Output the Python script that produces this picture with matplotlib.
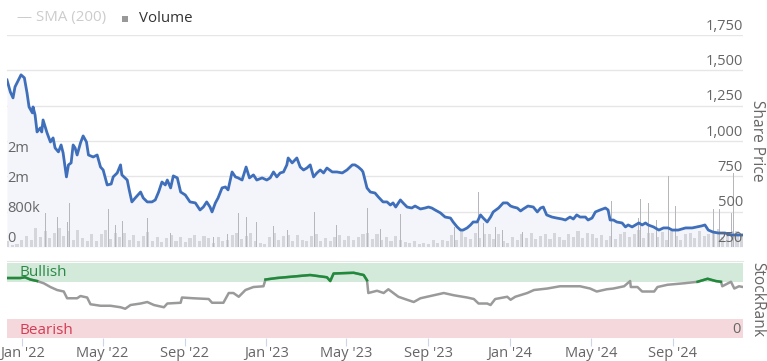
import numpy as np
import pandas as pd
import matplotlib
matplotlib.use('Agg')
import matplotlib.pyplot as plt
import matplotlib.dates as mdates
from matplotlib.transforms import offset_copy

plt.rcParams['font.family'] = ['Open Sans', 'DejaVu Sans']

# ---------------- data ----------------
price_dates = [
    '2021-12-09', '2021-12-14', '2021-12-18', '2021-12-21', '2021-12-30', '2022-01-04', '2022-01-08',
    '2022-01-11', '2022-01-16', '2022-01-17', '2022-01-20', '2022-01-23', '2022-01-28', '2022-01-30',
    '2022-02-01', '2022-02-07', '2022-02-12', '2022-02-16', '2022-02-19', '2022-02-24', '2022-02-28',
    '2022-03-03', '2022-03-08', '2022-03-11', '2022-03-15', '2022-03-18', '2022-03-21', '2022-03-24',
    '2022-03-29', '2022-04-02', '2022-04-07', '2022-04-10', '2022-04-17', '2022-04-23', '2022-04-28',
    '2022-05-02', '2022-05-08', '2022-05-14', '2022-05-17', '2022-05-23', '2022-05-28', '2022-05-30',
    '2022-06-07', '2022-06-10', '2022-06-14', '2022-06-19', '2022-06-27', '2022-07-01', '2022-07-07',
    '2022-07-14', '2022-07-19', '2022-07-24', '2022-07-29', '2022-08-03', '2022-08-06', '2022-08-11',
    '2022-08-15', '2022-08-21', '2022-08-26', '2022-09-02', '2022-09-09', '2022-09-17', '2022-09-24',
    '2022-09-29', '2022-10-04', '2022-10-09', '2022-10-12', '2022-10-17', '2022-10-21', '2022-10-27',
    '2022-11-01', '2022-11-05', '2022-11-11', '2022-11-16', '2022-11-20', '2022-11-26', '2022-12-02',
    '2022-12-07', '2022-12-13', '2022-12-18', '2022-12-26', '2023-01-02', '2023-01-07', '2023-01-12',
    '2023-01-17', '2023-01-22', '2023-01-27', '2023-02-01', '2023-02-03', '2023-02-09', '2023-02-16',
    '2023-02-21', '2023-02-26', '2023-03-03', '2023-03-08', '2023-03-13', '2023-03-18', '2023-03-23',
    '2023-03-28', '2023-04-02', '2023-04-10', '2023-04-17', '2023-04-25', '2023-05-02', '2023-05-10',
    '2023-05-14', '2023-05-19', '2023-05-24', '2023-05-26', '2023-06-01', '2023-06-06', '2023-06-13',
    '2023-06-18', '2023-06-25', '2023-07-01', '2023-07-06', '2023-07-10', '2023-07-14', '2023-07-21',
    '2023-07-25', '2023-07-31', '2023-08-07', '2023-08-12', '2023-08-20', '2023-08-27', '2023-09-01',
    '2023-09-06', '2023-09-11', '2023-09-19', '2023-09-26', '2023-10-04', '2023-10-08', '2023-10-14',
    '2023-10-19', '2023-10-23', '2023-10-29', '2023-11-03', '2023-11-07', '2023-11-13', '2023-11-18',
    '2023-11-22', '2023-11-28', '2023-12-03', '2023-12-07', '2023-12-15', '2023-12-22', '2023-12-28',
    '2024-01-02', '2024-01-06', '2024-01-12', '2024-01-17', '2024-01-21', '2024-01-28', '2024-02-05',
    '2024-02-11', '2024-02-16', '2024-02-20', '2024-02-25', '2024-03-04', '2024-03-11', '2024-03-19',
    '2024-03-24', '2024-03-31', '2024-04-05', '2024-04-10', '2024-04-15', '2024-04-23', '2024-04-27',
    '2024-05-03', '2024-05-08', '2024-05-15', '2024-05-23', '2024-05-27', '2024-05-30', '2024-06-04',
    '2024-06-09', '2024-06-17', '2024-06-22', '2024-06-26', '2024-07-02', '2024-07-07', '2024-07-12',
    '2024-07-17', '2024-07-22', '2024-07-26', '2024-08-03', '2024-08-11', '2024-08-18', '2024-08-25',
    '2024-08-31', '2024-09-09', '2024-09-20', '2024-09-30', '2024-10-07', '2024-10-14', '2024-10-19',
    '2024-10-24', '2024-10-31', '2024-11-08', '2024-11-18', '2024-11-28', '2024-12-08', '2024-12-14',
]
price_values = [
    1432, 1347, 1305, 1383, 1468, 1447, 1340,
    1241, 1199, 1241, 1185, 1064, 1093, 1064,
    1149, 1057, 993, 1022, 951, 923, 972,
    916, 746, 831, 845, 972, 951, 901,
    986, 1036, 993, 901, 887, 901, 816,
    795, 689, 696, 746, 774, 831, 760,
    724, 654, 569, 597, 639, 597, 569,
    569, 583, 639, 710, 689, 724, 668,
    753, 739, 639, 618, 569, 562, 512,
    533, 569, 533, 498, 562, 597, 668,
    675, 654, 781, 746, 739, 724, 816,
    739, 760, 724, 739, 724, 739, 781,
    746, 774, 781, 831, 880, 845, 880,
    816, 795, 809, 831, 746, 774, 795,
    774, 809, 781, 781, 774, 795, 831,
    831, 816, 795, 781, 668, 639, 632,
    604, 569, 569, 547, 562, 533, 583,
    562, 533, 526, 540, 519, 526, 533,
    526, 512, 491, 462, 455, 427, 392,
    370, 370, 385, 406, 427, 427, 477,
    455, 427, 462, 498, 526, 562, 562,
    540, 533, 526, 505, 519, 540, 533,
    498, 526, 533, 477, 462, 455, 448,
    441, 462, 448, 477, 462, 462, 441,
    455, 498, 512, 526, 512, 441, 441,
    427, 420, 392, 406, 392, 406, 420,
    406, 420, 406, 392, 370, 385, 385,
    370, 370, 385, 385, 392, 399, 406,
    370, 356, 349, 349, 335, 335, 335,
]

# weekly volume (shares, thousands) starting 2021-12-10
vol_start = '2021-12-10'
vol_weekly_k = [
    150, 60, 90, 190,
    300, 180, 500, 260,
    420, 230, 380, 520,
    300, 420, 200, 450, 250,
    170, 340, 150, 360,
    450, 210, 380, 260,
    380, 200, 330, 170,
    300, 400, 160, 280, 140,
    240, 320, 150, 260,
    130, 240, 310, 150, 290,
    240, 120, 260, 160,
    200, 330, 380, 220,
    300, 380, 170, 120, 90,
    260, 380, 200, 300,
    330, 160, 310, 200,
    150, 300, 360, 170, 250,
    160, 280, 330, 190,
    290, 180, 260, 340,
    380, 220, 340, 180, 260,
    150, 300, 200, 130,
    110, 150, 80, 120,
    90, 180, 110, 200, 150,
    330, 200, 420, 270,
    210, 380, 250, 340,
    360, 220, 340, 170, 110,
    260, 180, 340, 230,
    380, 220, 290, 350,
    210, 380, 260, 190, 340,
    280, 420, 230, 380,
    360, 240, 330, 180, 300,
    210, 360, 400, 260,
    360, 450, 240, 380,
    380, 260, 400, 200, 420,
    300, 200, 360, 390,
    240, 420, 300, 360,
    420, 480, 280, 380, 440,
    420, 300,
]

# high-volume days
spike_dates = [
    '2022-01-23', '2022-01-26', '2022-02-04', '2022-02-22', '2022-03-09', '2022-03-12', '2022-05-10',
    '2022-05-20', '2022-05-31', '2022-07-07', '2022-08-11', '2022-09-30', '2022-10-14', '2022-11-04',
    '2022-11-20', '2022-12-02', '2022-12-17', '2023-01-12', '2023-02-02', '2023-03-14', '2023-04-16',
    '2023-06-02', '2023-06-21', '2023-07-21', '2023-10-10', '2023-11-15', '2023-11-22', '2023-12-10',
    '2023-12-21', '2024-01-20', '2024-04-12', '2024-04-27', '2024-05-03', '2024-06-01', '2024-07-11',
    '2024-07-14', '2024-07-26', '2024-08-07', '2024-08-26', '2024-09-05', '2024-11-01', '2024-11-10',
    '2024-11-28', '2024-12-01',
]
spike_values_k = [
    1590, 1350, 915, 807, 673, 1180, 1020,
    592, 700, 780, 377, 377, 270, 350,
    915, 807, 673, 565, 457, 940, 592,
    1050, 484, 888, 538, 1480, 646, 538,
    457, 404, 1860, 940, 940, 1240, 780,
    1290, 1180, 726, 1910, 1100, 1020, 1020,
    915, 1990,
]

rank_dates = [
    '2021-12-09', '2021-12-29', '2022-01-05', '2022-01-13', '2022-01-23', '2022-02-02', '2022-02-12',
    '2022-02-22', '2022-03-04', '2022-03-09', '2022-03-24', '2022-03-29', '2022-04-08', '2022-04-13',
    '2022-04-28', '2022-05-13', '2022-05-28', '2022-06-04', '2022-06-12', '2022-06-27', '2022-07-07',
    '2022-07-17', '2022-08-01', '2022-08-06', '2022-08-26', '2022-08-28', '2022-09-14', '2022-10-07',
    '2022-10-12', '2022-10-29', '2022-11-06', '2022-11-13', '2022-11-21', '2022-12-01', '2022-12-13',
    '2022-12-28', '2022-12-31', '2023-01-17', '2023-02-11', '2023-03-08', '2023-04-02', '2023-04-07',
    '2023-04-12', '2023-05-12', '2023-05-27', '2023-06-01', '2023-06-03', '2023-06-16', '2023-06-26',
    '2023-07-03', '2023-07-18', '2023-07-31', '2023-08-10', '2023-08-20', '2023-09-09', '2023-09-24',
    '2023-10-09', '2023-10-29', '2023-11-08', '2023-11-15', '2023-11-28', '2023-12-03', '2023-12-10',
    '2023-12-28', '2024-01-02', '2024-01-09', '2024-01-27', '2024-02-06', '2024-02-26', '2024-03-16',
    '2024-04-15', '2024-04-30', '2024-05-10', '2024-05-25', '2024-06-04', '2024-06-20', '2024-06-29',
    '2024-06-30', '2024-07-10', '2024-07-17', '2024-08-04', '2024-08-09', '2024-08-24', '2024-09-18',
    '2024-10-08', '2024-10-23', '2024-11-04', '2024-11-12', '2024-11-14', '2024-11-27', '2024-12-02',
    '2024-12-09', '2024-12-15',
]
rank_values = [
    80, 80, 81, 78, 76, 73, 68,
    64, 62, 53, 53, 56, 54, 45,
    43, 43, 41, 39, 44, 46, 48,
    44, 41, 46, 47, 54, 53, 52,
    47, 47, 60, 60, 55, 64, 68,
    69, 78, 80, 82, 84, 81, 76,
    86, 87, 84, 77, 60, 63, 60,
    65, 55, 51, 48, 53, 57, 60,
    57, 54, 52, 46, 46, 44, 52,
    55, 51, 55, 60, 64, 66, 69,
    69, 66, 62, 65, 66, 69, 76,
    68, 68, 62, 62, 68, 71, 73,
    75, 79, 76, 75, 69, 75, 66,
    69, 68,
]

price_ticks = [250, 500, 750, 1000, 1250, 1500, 1750]
volume_ticks = [0, 800000, 1600000, 2400000]
volume_tick_labels = ['0', '800k', '2m', '2m']
x_tick_dates = ['2022-01-01', '2022-05-01', '2022-09-01', '2023-01-01', '2023-05-01',
                '2023-09-01', '2024-01-01', '2024-05-01', '2024-09-01']

# ---------------- figure ----------------
W, H = 767, 361
fig = plt.figure(figsize=(W / 100, H / 100), dpi=100)

def box(x0, y0, x1, y1):
    return [x0 / W, 1 - y1 / H, (x1 - x0) / W, (y1 - y0) / H]

pdates = pd.to_datetime(price_dates)
pvals = np.array(price_values, dtype=float)
vdates = pd.date_range(vol_start, periods=len(vol_weekly_k), freq='7D')
vvals = np.array(vol_weekly_k) * 1000.0
sdates = pd.to_datetime(spike_dates)
svals = np.array(spike_values_k) * 1000.0
rdates = pd.to_datetime(rank_dates)
rvals = np.array(rank_values, dtype=float)

xmin = pd.Timestamp('2021-12-09')
xmax = pd.Timestamp('2024-12-15')

grid_c = '#e6e6e6'
label_c = '#666666'
fs_tick = 10.5
fs_title = 11.2

# price axes (fill + gridlines)
ax = fig.add_axes(box(7, 35, 743, 247))
ax.set_xlim(xmin, xmax)
ax.set_ylim(250, 1750)
for t in price_ticks:
    ax.axhline(t, color=grid_c, lw=1, zorder=0)
ax.fill_between(pdates, pvals, 250, color='#f3f5fa', lw=0, zorder=1)
ax.axis('off')

# volume axes
axv = fig.add_axes(box(7, 35, 743, 247), sharex=ax)
axv.patch.set_visible(False)
axv.set_ylim(0, 5.71e6)
axv.bar(vdates, vvals, width=4.6, color='#d4d6db', lw=0, align='center')
axv.bar(sdates, svals, width=1.3, color='#b5b7bc', lw=0, align='center')
axv.axis('off')
for t, lab in zip(volume_ticks, volume_tick_labels):
    tr = offset_copy(axv.transData, fig=fig, x=0, y=9 * 72 / 100, units='points')
    axv.text(xmin + pd.Timedelta(days=0), t, lab, transform=tr, ha='left', va='center',
             fontsize=fs_tick, color=label_c, zorder=5)

# price line axes
axl = fig.add_axes(box(7, 35, 743, 247), sharex=ax)
axl.patch.set_visible(False)
axl.set_ylim(250, 1750)
axl.plot(pdates, pvals, color='#3f6fbb', lw=2.0, solid_joinstyle='round')
axl.axis('off')
for t in price_ticks:
    tr = offset_copy(axl.transData, fig=fig, x=0, y=1.5 * 72 / 100, units='points')
    axl.text(xmax, t, f'{t:,}', transform=tr, ha='right', va='bottom',
             fontsize=fs_tick, color=label_c, zorder=5)

# legend
fig.text(16 / W, 1 - 18 / H, '—', color='#cccccc', fontsize=10.8, ha='left', va='center')
fig.text(36 / W, 1 - 18 / H, 'SMA (200)', color='#cccccc', fontsize=10.8, ha='left', va='center')
fig.patches.append(plt.Rectangle((122 / W, 1 - 22 / H), 6 / W, 6 / H, transform=fig.transFigure,
                                 color='#999999', lw=0))
fig.text(139 / W, 1 - 18 / H, 'Volume', color='#333333', fontsize=10.8, ha='left', va='center')

fig.text(757 / W, 1 - 141 / H, 'Share Price', rotation=-90, ha='center', va='center',
         color=label_c, fontsize=fs_title)

# rank axes
axr = fig.add_axes(box(7, 261, 743, 338), sharex=ax)
axr.set_xlim(xmin, xmax)
axr.set_ylim(0, 102.7)
axr.axhspan(75, 100, color='#d3e9da', lw=0, zorder=0)
axr.axhspan(0, 25, color='#f5d8db', lw=0, zorder=0)
axr.plot(rdates, rvals, color='#9a9a9a', lw=1.8, zorder=2)
green = np.ma.masked_where(rvals < 75, rvals)
axr.plot(rdates, green, color='#1f8a3a', lw=1.8, zorder=3)
for s in ['left', 'right', 'bottom']:
    axr.spines[s].set_visible(False)
axr.spines['top'].set_color(grid_c)
axr.set_yticks([])
axr.set_xticks(pd.to_datetime(x_tick_dates))
axr.xaxis.set_major_formatter(mdates.DateFormatter("%b '%y"))
axr.tick_params(axis='x', length=6, color='#ccd6eb', labelsize=fs_tick, labelcolor=label_c, pad=0)
axr.text(xmin + pd.Timedelta(days=18), 87, 'Bullish', color='#2a8a45', fontsize=11,
         ha='left', va='center')
axr.text(xmin + pd.Timedelta(days=18), 9.5, 'Bearish', color='#d43c55', fontsize=11,
         ha='left', va='center')
axr.text(xmax - pd.Timedelta(days=3), 12, '0', color=label_c, fontsize=fs_tick, ha='right', va='center')

fig.text(757 / W, 1 - 300 / H, 'StockRank', rotation=-90, ha='center', va='center',
         color=label_c, fontsize=fs_title)

fig.savefig('out.png', dpi=100)
